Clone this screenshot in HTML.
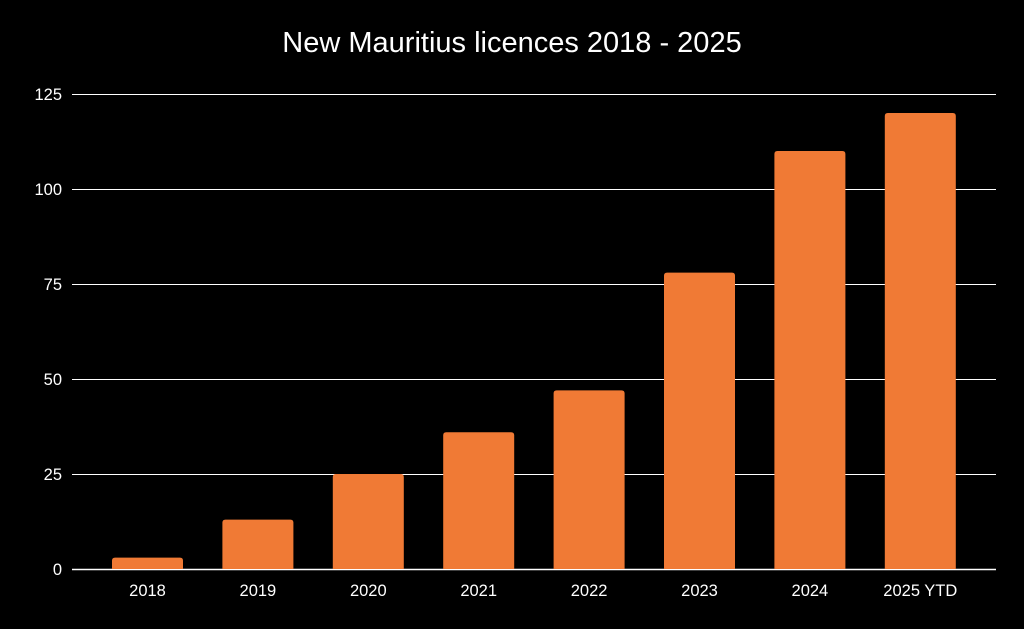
<!DOCTYPE html>
<html><head><meta charset="utf-8"><style>
html,body{margin:0;padding:0;background:#000;}
svg{display:block;font-family:"Liberation Sans",sans-serif;}
</style></head><body>
<svg width="1024" height="629" viewBox="0 0 1024 629">
<rect width="1024" height="629" fill="#000"/>
<text x="512" y="52" text-anchor="middle" fill="#fff" font-size="29">New Mauritius licences 2018 - 2025</text>
<g id="grid"></g><g id="bars"></g><g id="xlabels"></g>
</svg>
<script>
const categories=["2018","2019","2020","2021","2022","2023","2024","2025 YTD"];
const values=[3,13,25,36,47,78,110,120];
const yTicks=[0,25,50,75,100,125];
const ns="http://www.w3.org/2000/svg";
const y0=569,yMax=125,yTop=94;
const y=v=>y0-(v/yMax)*(y0-yTop);
const bandStart=92.3,band=110.4,barW=71;
const xc=i=>bandStart+band*(i+0.5);
const grid=document.getElementById('grid'),bars=document.getElementById('bars'),xl=document.getElementById('xlabels');
yTicks.forEach(t=>{
  const l=document.createElementNS(ns,'line');
  const yy=Math.round(y(t))+0.5;
  l.setAttribute('x1',72);l.setAttribute('x2',996);l.setAttribute('y1',yy);l.setAttribute('y2',yy);
  l.setAttribute('stroke','#fff');l.setAttribute('stroke-width',t===0?1.5:1);
  
  
  grid.appendChild(l);
  const tx=document.createElementNS(ns,'text');
  tx.setAttribute('x',62);tx.setAttribute('y',y(t)+6);tx.setAttribute('text-anchor','end');
  tx.setAttribute('fill','#fff');tx.setAttribute('font-size','16.5');tx.textContent=t;
  
  
  grid.appendChild(tx);
});
values.forEach((v,i)=>{
  const r=document.createElementNS(ns,'path');
  const x=xc(i)-barW/2,top=y(v),rr=3;
  r.setAttribute('d',`M${x},${y0} V${top+rr} Q${x},${top} ${x+rr},${top} H${x+barW-rr} Q${x+barW},${top} ${x+barW},${top+rr} V${y0} Z`);
  r.setAttribute('fill','#f07a35');
  
  
  bars.appendChild(r);
  const tx=document.createElementNS(ns,'text');
  tx.setAttribute('x',xc(i));tx.setAttribute('y',596);tx.setAttribute('text-anchor','middle');
  tx.setAttribute('fill','#fff');tx.setAttribute('font-size','16.5');tx.textContent=categories[i];
  
  
  xl.appendChild(tx);
});
</script>
</body></html>
